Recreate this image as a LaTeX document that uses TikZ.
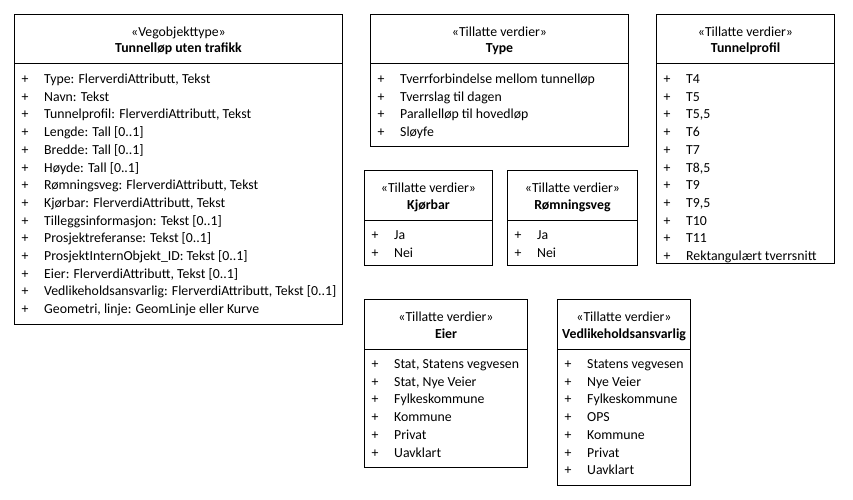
\documentclass[tikz,border=0pt]{standalone}
\usepackage{fontspec}
\setmainfont{Carlito}
\tikzset{
  umlbox/.style={draw, line width=1pt, anchor=north west, inner sep=0pt, fill=white},
  divline/.style={line width=1pt},
  txt/.style={font=\fontsize{13.8}{16}\selectfont, inner sep=0pt, anchor=base west},
  hdr/.style={font=\fontsize{13.8}{16}\selectfont, inner sep=0pt, anchor=base},
  plus/.style={font=\fontsize{13.8}{16}\selectfont, inner sep=0pt, anchor=base}
}
\newcommand{\umlclass}[8]{%
  \node[umlbox, minimum width=#4pt, minimum height=#5pt] (#1) at (#2,#3) {};
  \draw[divline] ([yshift=-50pt]#1.north west) -- ([yshift=-50pt]#1.north east);
  \node[hdr] (#1-st) at ([yshift=-22.5pt]#1.north) {«#6»};
  \node[hdr, font=\fontsize{13.8}{16}\selectfont\bfseries] (#1-nm) at ([yshift=-39pt]#1.north) {#7};
  \foreach \t [count=\i] in {#8} {
    \node[plus] (#1-p\i) at ([xshift=11pt, yshift={-69.5pt-17.7pt*(\i-1)}]#1.north west) {+};
    \node[txt] (#1-i\i) at ([xshift=30pt, yshift={-69.5pt-17.7pt*(\i-1)}]#1.north west) {\t};
  }
}
\begin{document}
\begin{tikzpicture}[x=1pt,y=-1pt]
\useasboundingbox (0,0) rectangle (853,500);
\umlclass{tun}{14}{14}{328}{310}{Vegobjekttype}{Tunnelløp uten trafikk}{
  {Type: FlerverdiAttributt, Tekst},
  {Navn: Tekst},
  {Tunnelprofil: FlerverdiAttributt, Tekst},
  {Lengde: Tall [0..1]},
  {Bredde: Tall [0..1]},
  {Høyde: Tall [0..1]},
  {Rømningsveg: FlerverdiAttributt, Tekst},
  {Kjørbar: FlerverdiAttributt, Tekst},
  {Tilleggsinformasjon: Tekst [0..1]},
  {Prosjektreferanse: Tekst [0..1]},
  {ProsjektInternObjekt\_ID: Tekst [0..1]},
  {Eier: FlerverdiAttributt, Tekst [0..1]},
  {Vedlikeholdsansvarlig: FlerverdiAttributt, Tekst [0..1]},
  {Geometri, linje: GeomLinje eller Kurve}}
\umlclass{typ}{370}{14}{258}{132}{Tillatte verdier}{Type}{
  {Tverrforbindelse mellom tunnelløp},
  {Tverrslag til dagen},
  {Parallelløp til hovedløp},
  {Sløyfe}}
\umlclass{prof}{656}{14}{178}{249}{Tillatte verdier}{Tunnelprofil}{
  T4, T5, {T5,5}, T6, T7, {T8,5}, T9, {T9,5}, T10, T11, {Rektangulært tverrsnitt}}
\umlclass{kjor}{364}{170}{128}{95}{Tillatte verdier}{Kjørbar}{Ja, Nei}
\umlclass{romn}{507}{170}{130}{95}{Tillatte verdier}{Rømningsveg}{Ja, Nei}
\umlclass{eier}{364}{299}{163}{168}{Tillatte verdier}{Eier}{
  {Stat, Statens vegvesen}, {Stat, Nye Veier}, Fylkeskommune, Kommune, Privat, Uavklart}
\umlclass{vedl}{557}{299}{133}{186}{Tillatte verdier}{Vedlikeholdsansvarlig}{
  {Statens vegvesen}, {Nye Veier}, Fylkeskommune, OPS, Kommune, Privat, Uavklart}
\end{tikzpicture}
\end{document}
